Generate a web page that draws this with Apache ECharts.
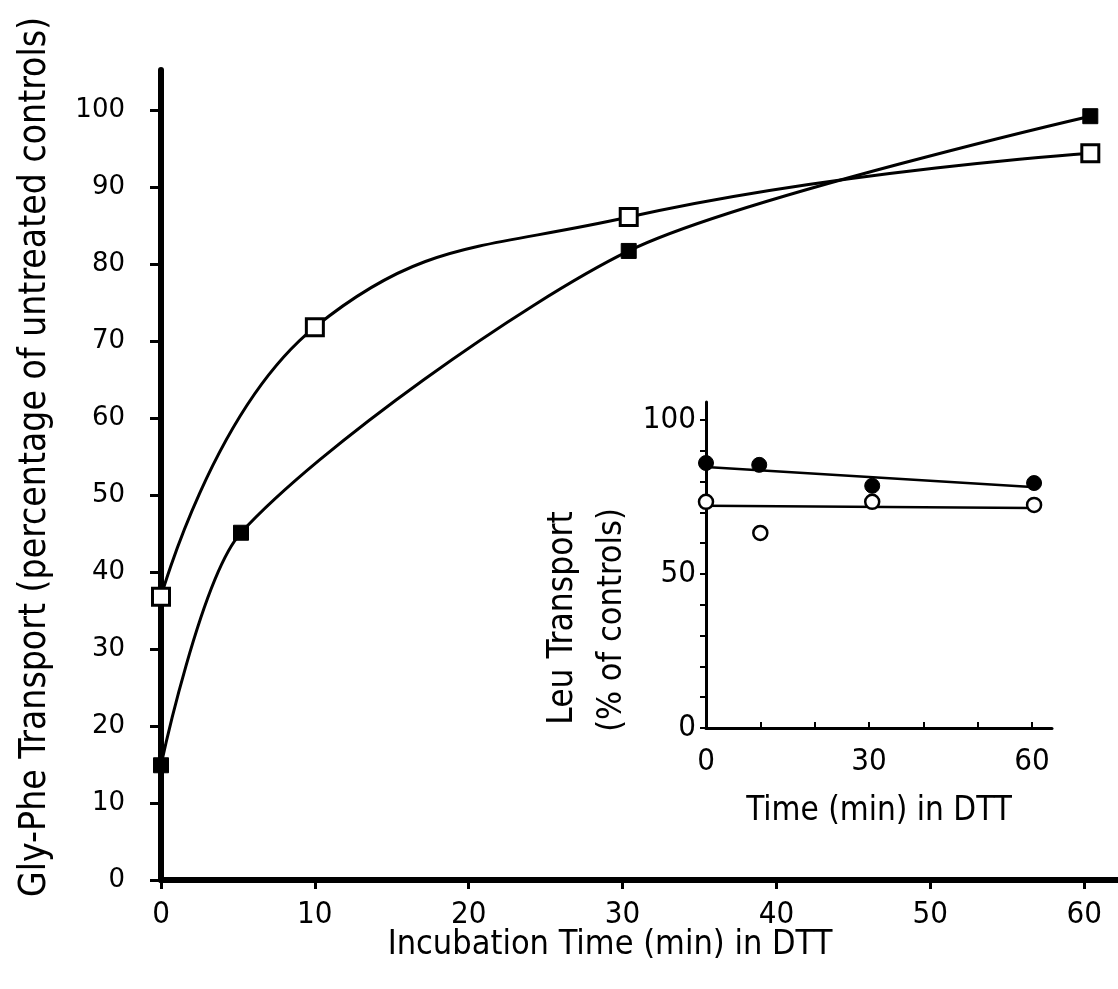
<!DOCTYPE html>
<html>
<head>
<meta charset="utf-8">
<script src="https://cdn.jsdelivr.net/npm/echarts@6/dist/echarts.min.js"></script>
<style>
html,body{margin:0;padding:0;background:#fff;}
#chart{width:1118px;height:989px;}
</style>
</head>
<body>
<div id="chart"></div>
<script>
// ---- Main chart data: Gly-Phe transport (% of untreated controls) vs time (min) ----
const filledSquareX = [0, 5.2, 30.4, 60.4];
const filledSquareY = [14.9, 45.1, 81.7, 99.2];
const openSquareX = [0, 10, 30.4, 60.4];
const openSquareY = [36.8, 71.8, 86.1, 94.4];
const mainXTicks = [0, 10, 20, 30, 40, 50, 60];
const mainYTicks = [0, 10, 20, 30, 40, 50, 60, 70, 80, 90, 100];

// ---- Inset data: Leu transport (% of controls) vs time (min) ----
const filledCircleX = [0, 9.8, 30.6, 60.4];
const filledCircleY = [86.0, 85.4, 78.6, 79.5];
const openCircleX = [0, 10, 30.6, 60.4];
const openCircleY = [73.4, 63.3, 73.4, 72.4];
const filledFitX = [0, 60];
const filledFitY = [84.7, 78.2];
const openFitX = [0, 60];
const openFitY = [72.1, 71.4];
const insetXTicks = [0, 10, 20, 30, 40, 50, 60];
const insetXLabels = [0, 30, 60];
const insetYTicks = [0, 10, 20, 30, 40, 50, 60, 70, 80, 90, 100];
const insetYLabels = [0, 50, 100];

const zip = (xs, ys) => xs.map((x, i) => [x, ys[i]]);

const narrow = "'Liberation Sans Narrow', 'DejaVu Sans Condensed', 'Liberation Sans', sans-serif";
const wide = "'DejaVu Sans', sans-serif";

const chart = echarts.init(document.getElementById('chart'), null, {renderer: 'canvas'});

const option = {
  backgroundColor: '#ffffff',
  animation: false,
  grid: [
    {left: 161, top: 70, width: 957, height: 810, containLabel: false},
    {left: 706, top: 402, width: 346, height: 326, containLabel: false}
  ],
  xAxis: [
    {
      gridIndex: 0, type: 'value', min: 0, max: 62.2,
      axisLine: {show: true, onZero: false, lineStyle: {color: '#000', width: 6}},
      axisTick: {show: true, inside: false, length: 9, customValues: mainXTicks, lineStyle: {color: '#000', width: 3}},
      axisLabel: {show: true, customValues: mainXTicks, margin: 19, color: '#000', fontSize: 31, fontFamily: narrow},
      splitLine: {show: false}
    },
    {
      gridIndex: 1, type: 'value', min: 0, max: 63.7,
      axisLine: {show: true, onZero: false, lineStyle: {color: '#000', width: 3}},
      axisTick: {show: true, inside: true, length: 6, customValues: insetXTicks, lineStyle: {color: '#000', width: 2}},
      axisLabel: {show: true, customValues: insetXLabels, margin: 18, color: '#000', fontSize: 31, fontFamily: narrow},
      splitLine: {show: false}
    }
  ],
  yAxis: [
    {
      gridIndex: 0, type: 'value', min: 0, max: 105.2,
      axisLine: {show: true, onZero: false, lineStyle: {color: '#000', width: 6}},
      axisTick: {show: true, inside: false, length: 11, customValues: mainYTicks, lineStyle: {color: '#000', width: 3}},
      axisLabel: {show: true, customValues: mainYTicks, margin: 36, color: '#000', fontSize: 26, fontFamily: wide},
      splitLine: {show: false}
    },
    {
      gridIndex: 1, type: 'value', min: 0, max: 105.8,
      axisLine: {show: true, onZero: false, lineStyle: {color: '#000', width: 3}},
      axisTick: {show: true, inside: false, length: 6, customValues: insetYTicks, lineStyle: {color: '#000', width: 2}},
      axisLabel: {show: true, customValues: insetYLabels, margin: 10, color: '#000', fontSize: 31, fontFamily: narrow},
      splitLine: {show: false}
    }
  ],
  series: [
    {
      name: 'open squares', type: 'line', xAxisIndex: 0, yAxisIndex: 0,
      data: zip(openSquareX, openSquareY),
      smooth: 0.45,
      lineStyle: {color: '#000', width: 3},
      symbol: 'rect', symbolSize: 17,
      itemStyle: {color: '#fff', borderColor: '#000', borderWidth: 3},
      z: 3
    },
    {
      name: 'filled squares', type: 'line', xAxisIndex: 0, yAxisIndex: 0,
      data: zip(filledSquareX, filledSquareY),
      smooth: 0.25,
      lineStyle: {color: '#000', width: 3},
      symbol: 'rect', symbolSize: 15,
      itemStyle: {color: '#000', borderColor: '#000', borderWidth: 1},
      z: 3
    },
    {
      name: 'filled fit', type: 'line', xAxisIndex: 1, yAxisIndex: 1,
      data: zip(filledFitX, filledFitY), showSymbol: false, symbol: 'none',
      lineStyle: {color: '#000', width: 2.5}, z: 2
    },
    {
      name: 'open fit', type: 'line', xAxisIndex: 1, yAxisIndex: 1,
      data: zip(openFitX, openFitY), showSymbol: false, symbol: 'none',
      lineStyle: {color: '#000', width: 2.5}, z: 2
    },
    {
      name: 'filled circles', type: 'scatter', xAxisIndex: 1, yAxisIndex: 1,
      data: zip(filledCircleX, filledCircleY),
      symbol: 'circle', symbolSize: 15,
      itemStyle: {color: '#000', borderColor: '#000', borderWidth: 1, opacity: 1}, z: 4
    },
    {
      name: 'open circles', type: 'scatter', xAxisIndex: 1, yAxisIndex: 1,
      data: zip(openCircleX, openCircleY),
      symbol: 'circle', symbolSize: 14,
      itemStyle: {color: '#fff', borderColor: '#000', borderWidth: 2.5, opacity: 1}, z: 4
    }
  ],
  graphic: [
    {
      type: 'text', x: 35, y: 457, rotation: Math.PI / 2,
      style: {text: 'Gly-Phe Transport (percentage of untreated controls)', font: '37px ' + narrow, fill: '#000', textAlign: 'center', textVerticalAlign: 'middle'}
    },
    {
      type: 'text', x: 610, y: 945,
      style: {text: 'Incubation Time (min) in DTT', font: '34px ' + narrow, fill: '#000', textAlign: 'center', textVerticalAlign: 'middle'}
    },
    {
      type: 'text', x: 563, y: 618, rotation: Math.PI / 2,
      style: {text: 'Leu Transport', font: '35px ' + narrow, fill: '#000', textAlign: 'center', textVerticalAlign: 'middle'}
    },
    {
      type: 'text', x: 612, y: 620, rotation: Math.PI / 2,
      style: {text: '(% of controls)', font: '34px ' + narrow, fill: '#000', textAlign: 'center', textVerticalAlign: 'middle'}
    },
    {
      type: 'text', x: 879, y: 811,
      style: {text: 'Time (min) in DTT', font: '33px ' + narrow, fill: '#000', textAlign: 'center', textVerticalAlign: 'middle'}
    }
  ]
};
chart.setOption(option);
</script>
</body>
</html>
